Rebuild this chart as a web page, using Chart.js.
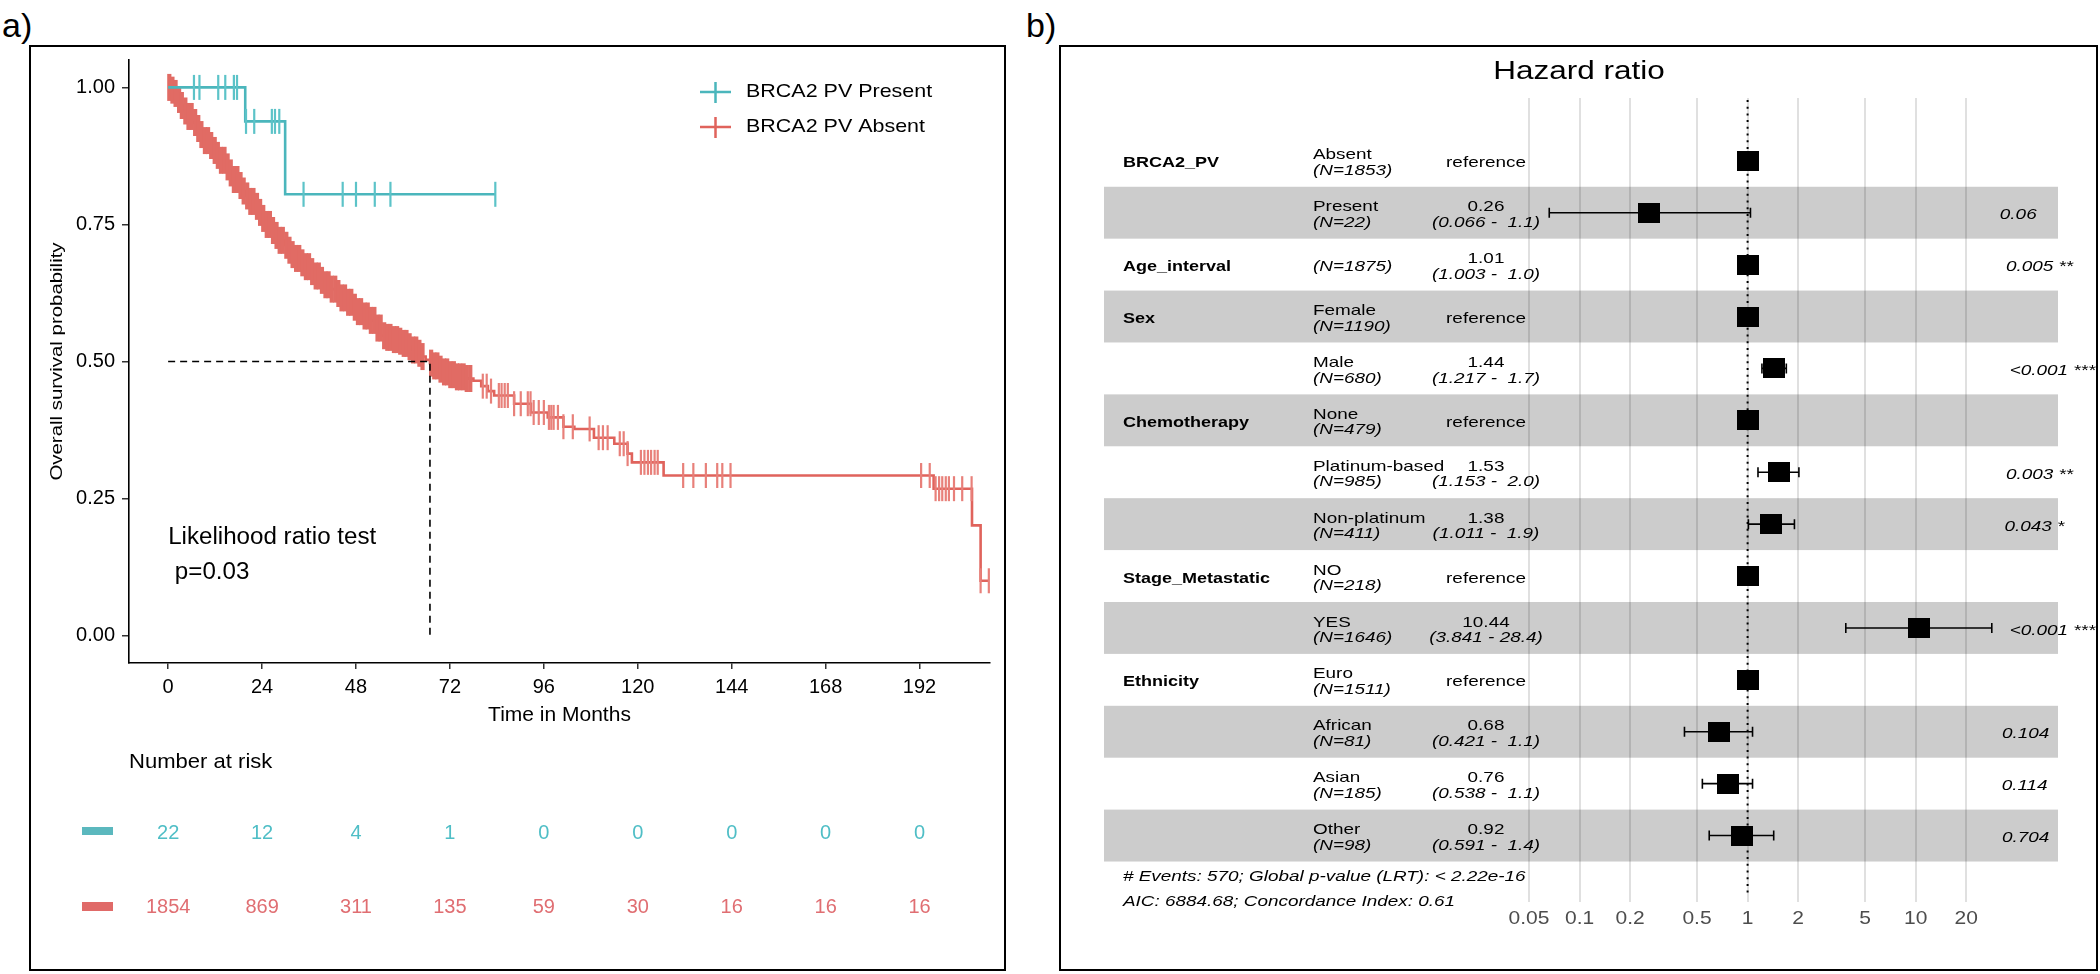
<!DOCTYPE html>
<html>
<head>
<meta charset="utf-8">
<script src="https://cdn.jsdelivr.net/npm/chart.js@4.4.1/dist/chart.umd.min.js"></script>
<style>
html, body { margin: 0; padding: 0; background: #fff; }
body { width: 2100px; height: 974px; position: relative; overflow: hidden; font-family: "Liberation Sans", Arial, sans-serif; }
canvas { position: absolute; left: 0; top: 0; }
.frame { position: absolute; border: 2px solid #000; box-sizing: border-box; }
.tag { position: absolute; font-size: 34px; line-height: 1; }
</style>
</head>
<body>
<div class="tag" style="left:2px;top:8px">a)</div>
<div class="tag" style="left:1026px;top:8px">b)</div>
<div class="frame" style="left:29px;top:45px;width:977px;height:926px"></div>
<div class="frame" style="left:1059px;top:45px;width:1039px;height:926px"></div>
<canvas id="km" width="2100" height="974"></canvas>
<canvas id="forest" width="2100" height="974"></canvas>
<script>
// ---------- panel a: survival curves ----------
const timeTicks = [0, 24, 48, 72, 96, 120, 144, 168, 192];
const survTicks = [0, 0.25, 0.5, 0.75, 1];

const presentTime = [0, 19.7, 29.9, 83.6];
const presentSurv = [1, 0.938, 0.805, 0.805];
const presentCensor = [6.6, 8.0, 12.8, 14.6, 16.8, 17.6, 19.9, 22.0, 26.5, 27.3, 28.4, 34.6, 44.6, 48.0, 52.8, 56.8, 83.6];

// (months, survival)
const absentTime = [0, 0.8, 1.6, 2.5, 3.3, 4.2, 5.0, 6.1, 7.2, 8.2, 9.3, 10.4, 11.4, 12.5, 13.5, 14.6, 15.6, 16.7, 17.8, 18.8,
  19.9, 21.0, 22.0, 23.1, 24.2, 25.2, 26.3, 27.4, 28.4, 29.5, 30.6, 31.7, 32.7, 33.8, 34.8, 36.2, 37.5, 38.9, 40.2, 41.6,
  42.9, 44.3, 45.7, 47.1, 48.5, 49.9, 51.4, 52.9, 54.4, 55.8, 57.2, 58.6, 60.0, 61.2, 62.4, 63.5, 64.6, 65.8, 66.9, 68.0,
  69.2, 70.3, 71.4, 73.6, 75.8, 78.0, 80.0, 81.7, 83.3, 88.4, 92.7, 97.0, 101.0, 103.8, 108.8, 114.0, 117.4, 118.5, 126.6,
  195.6, 205.4, 207.6, 209.7];
const absentSurv = [1.000, 0.995, 0.989, 0.978, 0.967, 0.957, 0.947, 0.936, 0.925, 0.914, 0.903, 0.894, 0.885, 0.876, 0.867, 0.855, 0.844, 0.832, 0.821, 0.811,
  0.802, 0.792, 0.783, 0.772, 0.761, 0.750, 0.739, 0.730, 0.721, 0.712, 0.703, 0.695, 0.688, 0.680, 0.673, 0.664, 0.656, 0.648, 0.640, 0.632,
  0.624, 0.616, 0.608, 0.599, 0.591, 0.583, 0.575, 0.561, 0.547, 0.544, 0.540, 0.537, 0.533, 0.527, 0.521, 0.515, 0.509, 0.503, 0.497, 0.492,
  0.486, 0.481, 0.476, 0.472, 0.469, 0.465, 0.455, 0.446, 0.438, 0.423, 0.407, 0.398, 0.381, 0.377, 0.361, 0.350, 0.332, 0.316, 0.292,
  0.268, 0.201, 0.100, 0.100];
// censoring is so dense before ~78 months that it reads as a solid band
const absentCensorDense = [0.3, 1.1, 1.9, 2.8, 3.5, 4.4, 5.2, 6.0, 6.9, 7.7, 8.5, 9.4, 10.2, 11.0, 11.9, 12.7, 13.5, 14.4, 15.2, 16.0, 16.8, 17.7, 18.5, 19.3, 20.2, 21.0, 21.8, 22.7, 23.5, 24.3, 25.2, 26.0, 26.8, 27.7, 28.5, 29.3, 30.2, 31.0, 31.8, 32.7, 33.5, 34.3, 35.2, 36.0, 36.8, 37.7, 38.5, 39.3, 40.2, 41.0, 41.8, 42.7, 43.5, 44.3, 45.2, 46.0, 46.8, 47.7, 48.5, 49.3, 50.2, 51.0, 51.8, 52.7, 53.5, 54.3, 55.2, 56.0, 56.8, 57.7, 58.5, 59.3, 60.2, 60.9, 61.7, 62.6, 63.4, 64.2, 65.0, 67.2, 68.0, 68.8, 69.6, 70.5, 71.3, 72.1, 73.0, 73.8, 74.6, 75.5, 76.3, 77.2];
const absentCensorSparse = [80.4, 81.4, 82.5, 84.5, 85.2, 86.0, 86.8, 88.4, 90.1, 91.9, 92.6, 93.4, 94.7, 96.0, 97.3, 97.9, 98.5, 99.6, 101.0, 103.4, 107.7, 110.0, 111.1, 112.3, 115.4, 116.4, 117.4, 120.8, 121.7, 122.6, 123.4, 124.3, 125.1, 131.6, 134.2, 137.4, 140.3, 141.6, 143.7, 192.4, 194.6, 196.1, 197.0, 197.8, 198.7, 199.5, 200.8, 202.9, 205.3, 207.6, 209.7];

const medianTime = 66.9;
const riskTimes = [0, 24, 48, 72, 96, 120, 144, 168, 192];
const riskPresent = [22, 12, 4, 1, 0, 0, 0, 0, 0];
const riskAbsent = [1854, 869, 311, 135, 59, 30, 16, 16, 16];

// ---------- panel b: hazard ratios ----------
const varNames = ['BRCA2_PV', '', 'Age_interval', 'Sex', '', 'Chemotherapy', '', '', 'Stage_Metastatic', '', 'Ethnicity', '', '', ''];
const levels = ['Absent', 'Present', '', 'Female', 'Male', 'None', 'Platinum-based', 'Non-platinum', 'NO', 'YES', 'Euro', 'African', 'Asian', 'Other'];
const nCounts = [1853, 22, 1875, 1190, 680, 479, 985, 411, 218, 1646, 1511, 81, 185, 98];
const hr = [1, 0.26, 1.01, 1, 1.44, 1, 1.53, 1.38, 1, 10.44, 1, 0.68, 0.76, 0.92];
const ciLow = [null, 0.066, 1.003, null, 1.217, null, 1.153, 1.011, null, 3.841, null, 0.421, 0.538, 0.591];
const ciHigh = [null, 1.04, 1.017, null, 1.70, null, 2.02, 1.90, null, 28.4, null, 1.07, 1.07, 1.43];
const hrText = ['reference', '0.26', '1.01', 'reference', '1.44', 'reference', '1.53', '1.38', 'reference', '10.44', 'reference', '0.68', '0.76', '0.92'];
const ciText = ['', '(0.066 -  1.1)', '(1.003 -  1.0)', '', '(1.217 -  1.7)', '', '(1.153 -  2.0)', '(1.011 -  1.9)', '', '(3.841 - 28.4)', '', '(0.421 -  1.1)', '(0.538 -  1.1)', '(0.591 -  1.4)'];
const pText = ['', '0.06', '0.005 **', '', '<0.001 ***', '', '0.003 **', '0.043 *', '', '<0.001 ***', '', '0.104', '0.114', '0.704'];
const hrTicks = [0.05, 0.1, 0.2, 0.5, 1, 2, 5, 10, 20];
const footer = ['# Events: 570; Global p-value (LRT): < 2.22e-16', 'AIC: 6884.68; Concordance Index: 0.61'];

const FONT = '"Liberation Sans", Arial, sans-serif';
const tealLine = '#4bb6bc', tealTick = '#5cc3c8', tealText = '#4fbec6';
const redLine = '#e0635c', redTick = '#e8807a', redText = '#e06e72';

function label(ctx, s, x, y, o) {
  o = Object.assign({ size: 15, weight: 'normal', style: 'normal', align: 'left', color: '#000', sx: 1 }, o);
  ctx.save();
  ctx.font = `${o.style} ${o.weight} ${o.size}px ${FONT}`;
  ctx.fillStyle = o.color;
  ctx.textAlign = o.align;
  ctx.textBaseline = 'middle';
  ctx.translate(x, y);
  ctx.scale(o.sx, 1);
  ctx.fillText(s, 0, 0);
  ctx.restore();
}
function textWidth(ctx, s, o) {
  ctx.save();
  ctx.font = `${o.style || 'normal'} ${o.weight || 'normal'} ${o.size}px ${FONT}`;
  const w = ctx.measureText(s).width * (o.sx || 1);
  ctx.restore();
  return w;
}

// survival value of a step curve at time t (censor marks sit on the curve)
function survAt(times, surv, t) {
  let v = surv[0];
  for (let i = 0; i < times.length; i++) if (times[i] <= t) v = surv[i];
  return v;
}
const toPts = (times, surv) => times.map((t, i) => ({ x: t, y: surv[i] }));
const censorPts = (list, times, surv) => list.map(t => ({ x: t, y: survAt(times, surv, t) }));

const kmDecor = {
  id: 'kmDecor',
  afterDraw(chart) {
    const ctx = chart.ctx, xs = chart.scales.x, area = chart.chartArea;
    ctx.save();
    ctx.translate(57, (area.top + area.bottom) / 2);
    ctx.rotate(-Math.PI / 2);
    label(ctx, 'Overall survival probability', 0, 0, { size: 17, sx: 1.2, align: 'center' });
    ctx.restore();
    label(ctx, 'Time in Months', (area.left + area.right) / 2, 715, { size: 21, align: 'center' });

    // legend
    [[tealLine, 'BRCA2 PV Present', 92], [redLine, 'BRCA2 PV Absent', 127]].forEach(([c, s, y]) => {
      ctx.save();
      ctx.strokeStyle = c; ctx.lineWidth = 2.5;
      ctx.beginPath();
      ctx.moveTo(700, y); ctx.lineTo(731, y);
      ctx.moveTo(715.5, y - 10); ctx.lineTo(715.5, y + 11);
      ctx.stroke();
      ctx.restore();
      label(ctx, s, 746, y, { size: 19, sx: 1.13 });
    });

    label(ctx, 'Likelihood ratio test', xs.getPixelForValue(0), 538, { size: 23, sx: 1.05 });
    label(ctx, ' p=0.03', xs.getPixelForValue(0), 573, { size: 23, sx: 1.05 });

    // risk table
    label(ctx, 'Number at risk', 129, 762, { size: 21, sx: 1.05 });
    ctx.fillStyle = '#5bb8be'; ctx.fillRect(82, 827, 31, 8);
    ctx.fillStyle = '#e06a68'; ctx.fillRect(82, 902, 31, 9);
    riskTimes.forEach((t, i) => {
      const px = xs.getPixelForValue(t);
      label(ctx, String(riskPresent[i]), px, 833, { size: 20, align: 'center', color: tealText });
      label(ctx, String(riskAbsent[i]), px, 907, { size: 20, align: 'center', color: redText });
    });
  }
};

new Chart(document.getElementById('km'), {
  type: 'scatter',
  data: {
    datasets: [
      { data: [{ x: 0, y: 0.5 }, { x: medianTime, y: 0.5 }, { x: medianTime, y: 0 }], showLine: true,
        borderColor: '#000', borderWidth: 1.6, borderDash: [7, 5], pointRadius: 0 },
      { data: censorPts(presentCensor, presentTime, presentSurv), pointStyle: 'line', rotation: 90,
        pointRadius: 12.5, borderColor: tealTick, pointBorderWidth: 2.2 },
      { data: toPts(presentTime, presentSurv), showLine: true, stepped: 'before',
        borderColor: tealLine, borderWidth: 2.6, pointRadius: 0 },
      { data: censorPts(absentCensorSparse, absentTime, absentSurv), pointStyle: 'line', rotation: 90,
        pointRadius: 12.5, borderColor: redTick, pointBorderWidth: 2.2 },
      { data: censorPts(absentCensorDense, absentTime, absentSurv), pointStyle: 'line', rotation: 90,
        pointRadius: 13.5, borderColor: '#e16b64', pointBorderWidth: 4.2 },
      { data: toPts(absentTime, absentSurv), showLine: true, stepped: 'before',
        borderColor: redLine, borderWidth: 2.6, pointRadius: 0 }
    ]
  },
  options: {
    responsive: false,
    animation: false,
    events: [],
    layout: { padding: { left: 29, top: 60, right: 1110, bottom: 241 } },
    plugins: { legend: { display: false }, tooltip: { enabled: false } },
    scales: {
      x: {
        type: 'linear', min: -10, max: 210,
        afterBuildTicks: s => { s.ticks = timeTicks.map(v => ({ value: v })); },
        afterFit: s => { s.height = 70; },
        grid: { drawOnChartArea: false, tickLength: 6, color: '#333', lineWidth: 1.5 },
        border: { color: '#000', width: 1.6 },
        ticks: { font: { family: FONT, size: 20 }, color: '#000', padding: 6, maxRotation: 0 }
      },
      y: {
        min: -0.05, max: 1.05,
        afterBuildTicks: s => { s.ticks = survTicks.map(v => ({ value: v })); },
        afterFit: s => { s.width = 100; },
        grid: { drawOnChartArea: false, tickLength: 7, color: '#333', lineWidth: 1.5 },
        border: { color: '#000', width: 1.6 },
        ticks: { font: { family: FONT, size: 20 }, color: '#000', padding: 7, callback: v => v.toFixed(2) }
      }
    }
  },
  plugins: [kmDecor]
});

// ---------- forest plot ----------
const rowIdx = hr.map((_, i) => i + 1);
const squareImg = document.createElement('canvas');
squareImg.width = 22; squareImg.height = 20;
squareImg.getContext('2d').fillRect(0, 0, 22, 20);

const ciPts = [];
rowIdx.forEach((r, i) => {
  if (ciLow[i] == null) return;
  ciPts.push({ x: ciLow[i], y: r }, { x: ciHigh[i], y: r }, { x: ciHigh[i], y: null });
});

const forestDecor = {
  id: 'forestDecor',
  beforeDraw(chart) {
    const ctx = chart.ctx, ys = chart.scales.y;
    ctx.save();
    ctx.fillStyle = '#cccccc';
    rowIdx.forEach(r => {
      if (r % 2 === 0) {
        const y0 = ys.getPixelForValue(r - 0.5), y1 = ys.getPixelForValue(r + 0.5);
        ctx.fillRect(1104, y0, 2058 - 1104, y1 - y0);
      }
    });
    ctx.restore();
  },
  beforeDatasetsDraw(chart) {
    const ctx = chart.ctx, xs = chart.scales.x, area = chart.chartArea;
    const x1 = xs.getPixelForValue(1);
    ctx.save();
    ctx.strokeStyle = '#000'; ctx.lineWidth = 2; ctx.setLineDash([2, 4.7]);
    ctx.beginPath(); ctx.moveTo(x1, area.top + 2); ctx.lineTo(x1, area.bottom - 9); ctx.stroke();
    ctx.restore();
  },
  afterDraw(chart) {
    const ctx = chart.ctx, xs = chart.scales.x, ys = chart.scales.y;
    const base = { size: 15, sx: 1.26 };
    label(ctx, 'Hazard ratio', 1579, 72, { size: 25, sx: 1.26, align: 'center' });
    rowIdx.forEach((r, i) => {
      const c = ys.getPixelForValue(r);
      if (varNames[i]) label(ctx, varNames[i], 1123, c + 2.5, { size: 15, sx: 1.2, weight: 'bold' });
      const nTxt = '(N=' + nCounts[i] + ')';
      if (levels[i]) {
        label(ctx, levels[i], 1313, c - 5.5, base);
        label(ctx, nTxt, 1313, c + 10, Object.assign({ style: 'italic' }, base));
      } else {
        label(ctx, nTxt, 1313, c + 2.5, Object.assign({ style: 'italic' }, base));
      }
      if (ciText[i]) {
        label(ctx, hrText[i], 1486, c - 5.5, Object.assign({ align: 'center' }, base));
        label(ctx, ciText[i], 1486, c + 10, Object.assign({ align: 'center', style: 'italic' }, base));
      } else {
        label(ctx, hrText[i], 1486, c + 2.5, Object.assign({ align: 'center' }, base));
      }
      if (pText[i]) {
        const o = Object.assign({ style: 'italic' }, base);
        const w = textWidth(ctx, pText[i], o);
        label(ctx, pText[i], 1992.5 + 0.2 * w, c + 2.5, o);
      }
    });
    hrTicks.forEach(v => {
      label(ctx, String(v), xs.getPixelForValue(v), 919, { size: 17.5, sx: 1.2, align: 'center', color: '#4d4d4d' });
    });
    footer.forEach((s, k) => label(ctx, s, 1123, 877 + 25 * k, { size: 15, sx: 1.26, style: 'italic' }));
  }
};

new Chart(document.getElementById('forest'), {
  type: 'scatter',
  data: {
    datasets: [
      { data: rowIdx.map((r, i) => ({ x: hr[i], y: r })), pointStyle: squareImg, pointRadius: 11 },
      { data: ciPts, showLine: true, spanGaps: false, borderColor: '#000', borderWidth: 1.6,
        pointStyle: 'line', rotation: 90, pointRadius: 5, pointBorderColor: '#000', pointBorderWidth: 1.6 }
    ]
  },
  options: {
    responsive: false,
    animation: false,
    events: [],
    layout: { padding: { left: 1512.7, right: 104.2, top: 98, bottom: 72 } },
    plugins: { legend: { display: false }, tooltip: { enabled: false } },
    scales: {
      x: {
        type: 'logarithmic', min: 0.04, max: 30,
        afterBuildTicks: s => { s.ticks = hrTicks.map(v => ({ value: v })); },
        afterFit: s => { s.height = 0; },
        ticks: { display: false },
        grid: { color: 'rgba(0,0,0,0.12)', lineWidth: 2, drawTicks: false, tickLength: 0 },
        border: { display: false }
      },
      y: { min: -0.21, max: 15.28, reverse: true, display: false }
    }
  },
  plugins: [forestDecor]
});
</script>
</body>
</html>
